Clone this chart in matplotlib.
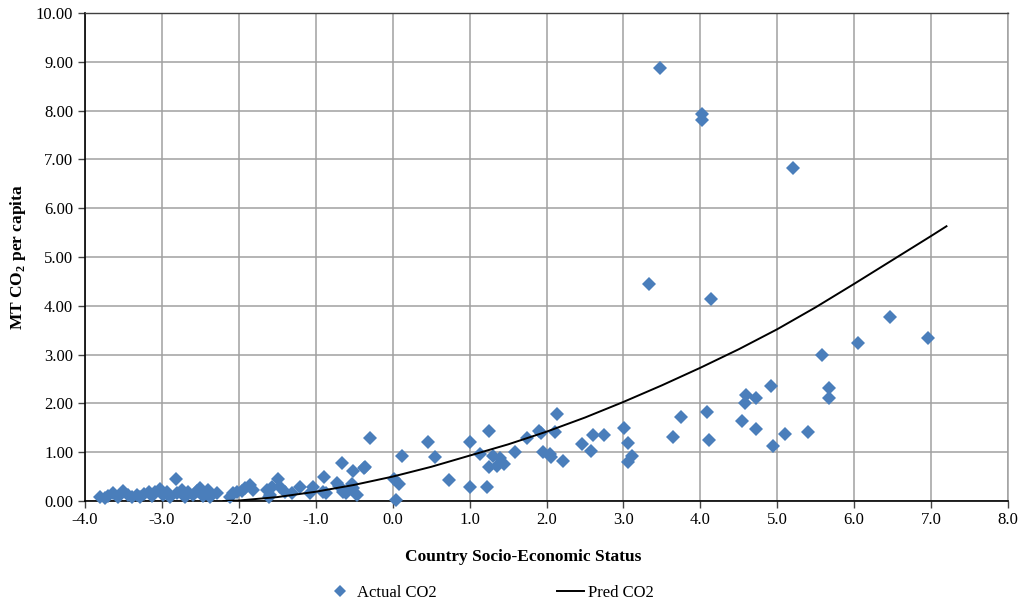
import matplotlib
matplotlib.use("Agg")
import matplotlib.pyplot as plt
from matplotlib.lines import Line2D

plt.rcParams['font.family'] = ['Liberation Serif', 'DejaVu Serif']
plt.rcParams['mathtext.fontset'] = 'custom'
plt.rcParams['mathtext.rm'] = 'Liberation Serif'
plt.rcParams['mathtext.bf'] = 'Liberation Serif:bold'

# socio-economic status score and CO2 per capita for each country
ses = [-3.80, -3.74, -3.70, -3.64, -3.57, -3.51, -3.44, -3.39, -3.32, -3.28,
       -3.23, -3.17, -3.13, -3.09, -3.02, -2.99, -2.93, -2.89, -2.82, -2.80,
       -2.74, -2.70, -2.66, -2.60, -2.54, -2.50, -2.47, -2.40, -2.37, -2.28,
       -2.11, -2.07, -2.02, -1.96, -1.92, -1.85, -1.82, -1.63, -1.61, -1.59,
       -1.57, -1.49, -1.46, -1.40, -1.31, -1.20, -1.07, -1.04, -0.89, -0.91,
       -0.87, -0.72, -0.70, -0.66, -0.65, -0.61, -0.53, -0.52, -0.52, -0.46,
       -0.37, -0.36, -0.29, 0.02, 0.04, 0.08, 0.12, 0.46, 0.55, 0.73,
       1.01, 1.01, 1.14, 1.25, 1.23, 1.25, 1.31, 1.36, 1.40, 1.45,
       1.59, 1.75, 1.90, 1.93, 2.14, 2.11, 1.96, 2.05, 2.06, 2.22,
       2.46, 2.61, 2.75, 2.58, 3.01, 3.06, 3.11, 3.06, 3.65, 3.75,
       4.09, 4.11, 4.54, 4.58, 4.60, 4.73, 4.73, 4.92, 4.95, 5.10,
       5.40, 5.58, 5.67, 5.67, 6.05, 6.47, 6.96, 3.33, 3.47, 4.02,
       4.02, 4.14, 5.21]
co2 = [0.08, 0.06, 0.10, 0.16, 0.08, 0.20, 0.12, 0.08, 0.12, 0.08,
       0.14, 0.18, 0.10, 0.18, 0.25, 0.12, 0.18, 0.08, 0.45, 0.16,
       0.23, 0.08, 0.18, 0.12, 0.20, 0.27, 0.10, 0.23, 0.08, 0.16,
       0.08, 0.16, 0.18, 0.20, 0.27, 0.33, 0.23, 0.23, 0.08, 0.12,
       0.29, 0.45, 0.29, 0.18, 0.16, 0.29, 0.16, 0.29, 0.49, 0.18,
       0.16, 0.37, 0.31, 0.78, 0.18, 0.16, 0.35, 0.61, 0.27, 0.12,
       0.68, 0.70, 1.29, 0.45, 0.02, 0.35, 0.92, 1.21, 0.90, 0.43,
       1.21, 0.29, 0.96, 1.43, 0.29, 0.70, 0.92, 0.72, 0.88, 0.76,
       1.00, 1.29, 1.43, 1.39, 1.78, 1.41, 1.00, 0.96, 0.90, 0.82,
       1.17, 1.35, 1.35, 1.02, 1.50, 1.19, 0.92, 0.80, 1.31, 1.72,
       1.82, 1.25, 1.64, 2.01, 2.17, 1.47, 2.11, 2.36, 1.13, 1.37,
       1.41, 2.99, 2.31, 2.11, 3.24, 3.77, 3.34, 4.44, 8.88, 7.93,
       7.81, 4.14, 6.82]

# fitted prediction
pred_x = [-2.2, -2.0, -1.5, -1.0, -0.5, 0.0, 0.5, 1.0, 1.5, 2.0, 2.5,
          3.0, 3.5, 4.0, 4.5, 5.0, 5.5, 6.0, 6.5, 7.0, 7.2]
pred_y = [0.00, 0.01, 0.08, 0.19, 0.33, 0.50, 0.70, 0.93, 1.16, 1.42, 1.71,
          2.03, 2.37, 2.73, 3.11, 3.52, 3.97, 4.45, 4.94, 5.43, 5.63]

blue = '#4a7ebb'

fig = plt.figure(figsize=(10.24, 6.05), dpi=100)
ax = fig.add_axes([85/1024, 1 - 501/605, 923/1024, 488/605])

ax.plot(ses, co2, linestyle='none', marker='D', markersize=7.2,
        color=blue, markeredgewidth=0, zorder=3, clip_on=False)
ax.plot(pred_x, pred_y, color='black', lw=1.4, zorder=4)

ax.set_xlim(-4, 8)
ax.set_ylim(0, 10)
ax.set_xticks([x * 1.0 for x in range(-4, 9)])
ax.set_yticks(range(0, 11))
ax.set_xticklabels(['%.1f' % v for v in range(-4, 9)])
ax.set_yticklabels(['%.2f' % v for v in range(0, 11)])
ax.tick_params(labelsize=12, length=5, width=1, color='#444444', direction='out')
ax.tick_params(axis='x', pad=3)

ax.grid(True, color='#a0a0a0', lw=1.1)
ax.set_axisbelow(True)
for side in ['left', 'bottom']:
    ax.spines[side].set_linewidth(1.2)
    ax.spines[side].set_color('black')
ax.spines['top'].set_color('#404040')
ax.spines['top'].set_linewidth(1.0)
ax.spines['right'].set_color('#a0a0a0')
ax.spines['right'].set_linewidth(1.1)

ax.set_xlabel('Country Socio-Economic Status', fontsize=12.5, fontweight='bold')
ax.xaxis.set_label_coords(0.4745, -0.098)
ax.set_ylabel(r'MT CO$_{\mathbf{2}}$ per capita', fontsize=12.5, fontweight='bold')
ax.yaxis.set_label_coords(-0.062, 0.5)

handles = [Line2D([], [], linestyle='none', marker='D', markersize=6,
                  color=blue, markeredgewidth=0),
           Line2D([], [], color='black', lw=1.4)]
fig.legend(handles, ['Actual CO2', 'Pred CO2'], loc='center',
           bbox_to_anchor=(490/1024, 1 - 593/605), ncol=2, frameon=False,
           fontsize=12, columnspacing=7.2, handlelength=1.6, handletextpad=0.25)

fig.savefig('out.png', dpi=100)
